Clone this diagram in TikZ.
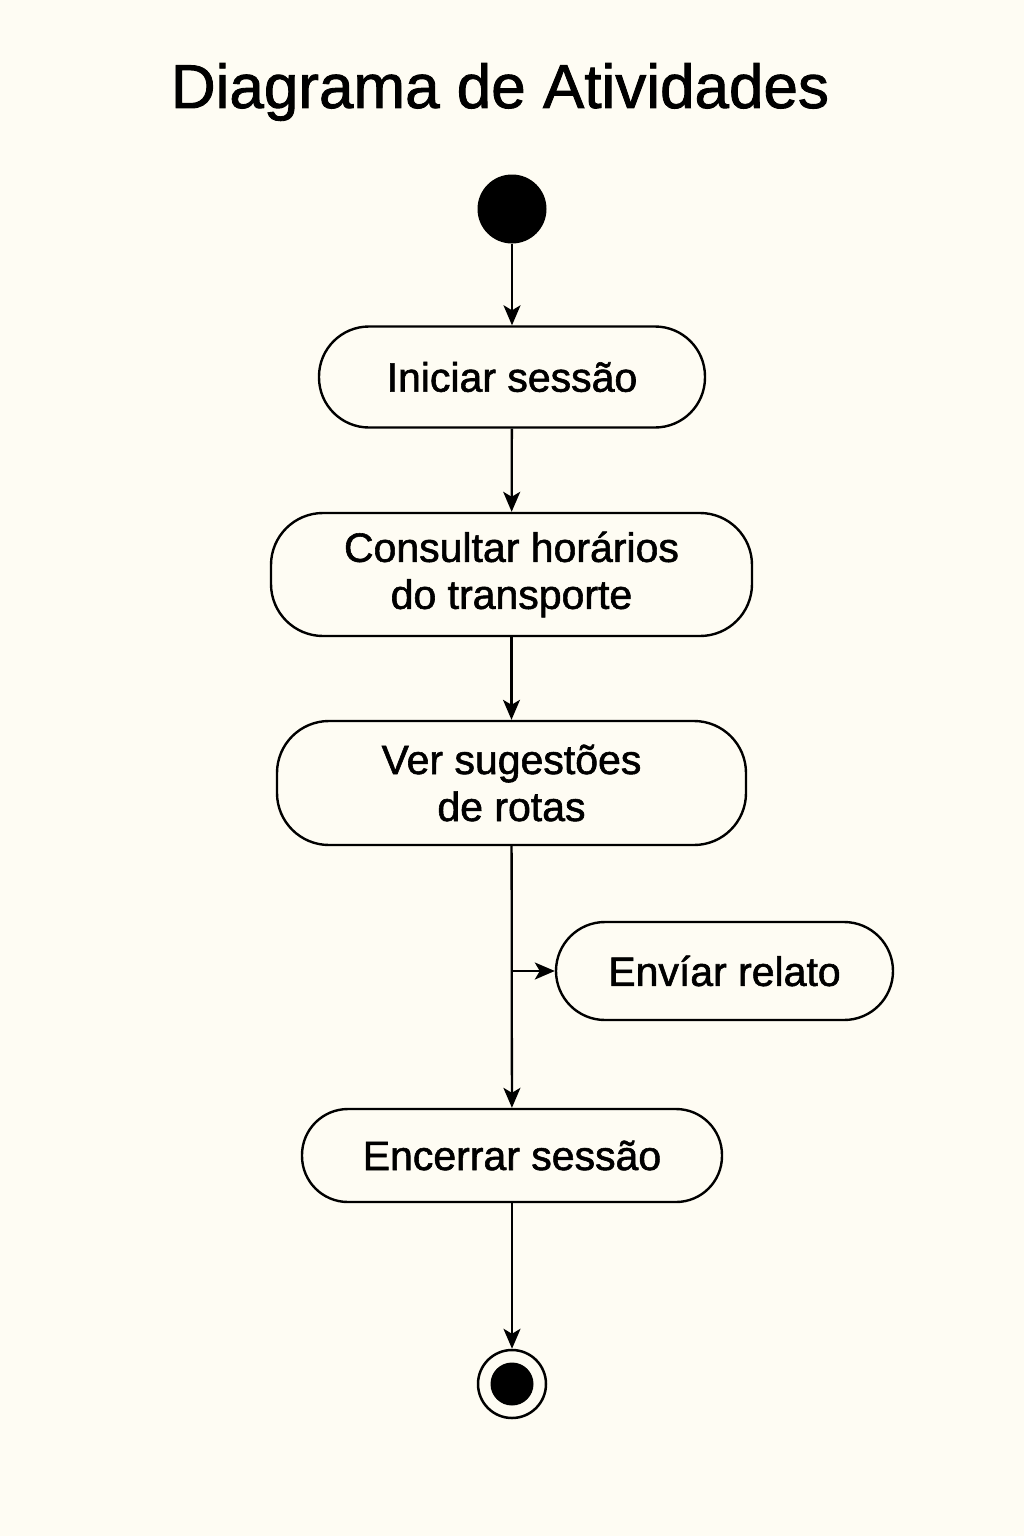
\documentclass[tikz,border=0pt]{standalone}
\usepackage{fontspec}
\setmainfont{Liberation Sans}[BoldFont=Liberation Sans, BoldFeatures={FakeBold=1.4}]
\usetikzlibrary{arrows.meta}

\definecolor{paper}{RGB}{254,252,243}  % cream background

\begin{document}
\begin{tikzpicture}[x=1pt, y=-1pt,
  act/.style={draw=black, line width=2.4pt, fill=paper, align=center, inner sep=0pt,
    font=\bfseries\fontsize{41}{47}\selectfont},
  flow/.style={line width=2.3pt, -{Stealth[length=20pt, width=17pt, inset=5pt]}}]

%─────────────
% Page
%─────────────
\fill[paper] (0,0) rectangle (1024,1536);
\useasboundingbox (0,0) rectangle (1024,1536);

%─────────────
% Title
%─────────────
\node[anchor=base, font=\bfseries\fontsize{62}{70}\selectfont] (titulo) at (500,108) {Diagrama de Atividades};

%─────────────────────────────
% Start and end points
%─────────────────────────────
\node[circle, fill=black, minimum size=69pt, inner sep=0pt] (inicio) at (512,209) {};
\node[circle, draw=black, line width=2.5pt, fill=paper, minimum size=68pt, inner sep=0pt] (fim) at (512,1384) {};
\node[circle, fill=black, minimum size=43pt, inner sep=0pt] (fimdot) at (fim) {};

%─────────────
% Activities
%─────────────
\node[act, minimum width=386pt, minimum height=101pt, rounded corners=50pt] (iniciar) at (512,377) {Iniciar sessão};
\node[act, minimum width=481pt, minimum height=123pt, rounded corners=52pt] (consultar) at (511.5,574.5) {Consultar horários\\do transporte};
\node[act, minimum width=469pt, minimum height=124pt, rounded corners=52pt] (rotas) at (511.5,783) {Ver sugestões\\de rotas};
\node[act, minimum width=337pt, minimum height=98pt, rounded corners=49pt] (relato) at (724.5,971) {Envíar relato};
\node[act, minimum width=420pt, minimum height=93pt, rounded corners=46pt] (encerrar) at (512,1155.5) {Encerrar sessão};

%─────────────
% Flow
%─────────────
\coordinate (ramo) at (512,971);  % branch point on the main line

\draw[flow] (inicio) -- (iniciar);
\draw[flow] (iniciar) -- (consultar);
\draw[flow] (consultar) -- (rotas);
\draw[flow] (rotas) -- (encerrar);
\draw[flow] (ramo) -- (relato);
\draw[flow] (encerrar) -- (fim);

\end{tikzpicture}
\end{document}
